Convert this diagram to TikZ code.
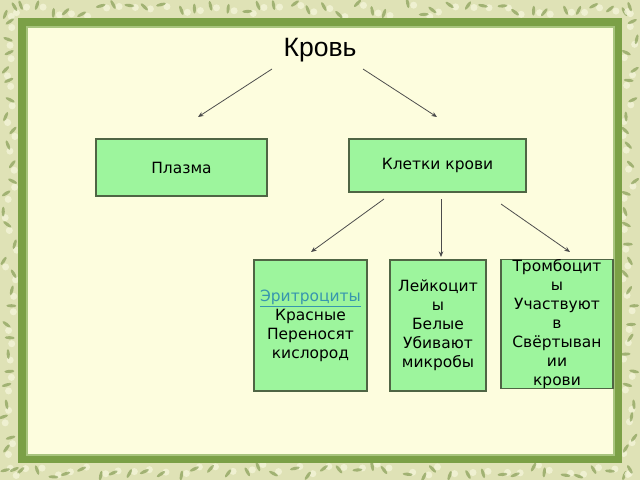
\documentclass[tikz,border=0pt]{standalone}
\usepackage{fontspec}
\setmainfont{DejaVu Sans}
\newfontfamily\titlefont{Liberation Sans}
\usetikzlibrary{arrows.meta}

\definecolor{paper}{HTML}{DFE2B6}
\definecolor{leaf}{HTML}{6F8B3C}
\definecolor{blossom}{HTML}{F3F4D8}
\definecolor{frame}{HTML}{7BA046}
\definecolor{bevel}{HTML}{A8C47E}
\definecolor{cream}{HTML}{FDFDDE}
\definecolor{cellfill}{HTML}{9DF59D}
\definecolor{celldraw}{HTML}{4F6544}
\definecolor{linkc}{HTML}{3796AE}

\tikzset{
  cell/.style={rectangle,draw=celldraw,fill=cellfill,line width=0.6pt,
    inner sep=0pt,align=center,font=\fontsize{8.8}{10.8}\selectfont},
  link/.style={-{Stealth[length=3.2pt,width=2.6pt]},draw=black!70,line width=0.45pt},
  leafy/.style={fill=leaf,opacity=0.55},
  petal/.style={fill=blossom,opacity=0.8}
}

\begin{document}
\begin{tikzpicture}[x=0.02cm,y=-0.02cm]

        % Background with leaves, and frame
        \fill[paper] (0,0) rectangle (640,480);
        \useasboundingbox (0,0) rectangle (640,480);
        \pgfmathsetseed{11}
        \foreach \k in {0,...,39} {
            \pgfmathsetmacro{\xa}{\k*16+8*rnd}
            \pgfmathsetmacro{\ya}{3+12*rnd}
            \pgfmathsetmacro{\yb}{466+12*rnd}
            \pgfmathsetmacro{\ra}{360*rnd}
            \pgfmathsetmacro{\rb}{360*rnd}
            \fill[petal] (\xa+6,\ya+2) circle (3.5);
            \fill[leafy,rotate around={\ra:(\xa,\ya)}] (\xa,\ya) ellipse (5 and 1.6);
            \fill[petal] (\xa+5,\yb-2) circle (3.5);
            \fill[leafy,rotate around={\rb:(\xa,\yb)}] (\xa,\yb) ellipse (5 and 1.6);
        }
        \foreach \k in {0,...,29} {
            \pgfmathsetmacro{\ya}{\k*16+8*rnd}
            \pgfmathsetmacro{\xa}{3+12*rnd}
            \pgfmathsetmacro{\xb}{625+12*rnd}
            \pgfmathsetmacro{\ra}{360*rnd}
            \pgfmathsetmacro{\rb}{360*rnd}
            \fill[petal] (\xa+2,\ya+6) circle (3.5);
            \fill[leafy,rotate around={\ra:(\xa,\ya)}] (\xa,\ya) ellipse (5 and 1.6);
            \fill[petal] (\xb-2,\ya+5) circle (3.5);
            \fill[leafy,rotate around={\rb:(\xb,\ya)}] (\xb,\ya) ellipse (5 and 1.6);
        }
        \fill[frame] (18,18) rectangle (622,463);
        \fill[cream] (27,27) rectangle (614,455);
        \draw[bevel,line width=0.6pt] (27,27) rectangle (614,455);

        % Title
        \node[font=\titlefont\fontsize{15.1}{18}\selectfont,anchor=base] (blood) at (320,56) {Кровь};

        % Boxes
        \node[cell,minimum width=3.42cm,minimum height=1.14cm] (plasma) at (181.5,167.5) {Плазма};
        \node[cell,minimum width=3.54cm,minimum height=1.06cm] (cells) at (437.5,165.5) {Клетки крови};
        \node[cell,minimum width=2.26cm,minimum height=2.62cm] (erythro) at (310.5,325.5)
            {\textcolor{linkc}{\underline{Эритроциты}}\\Красные\\Переносят\\кислород};
        \node[cell,minimum width=1.92cm,minimum height=2.62cm] (leuko) at (438,325.5)
            {Лейкоцит\\ы\\Белые\\Убивают\\микробы};
        \node[cell,minimum width=2.24cm,minimum height=2.56cm] (thrombo) at (557,324)
            {Тромбоцит\\ы\\Участвуют\\в\\Свёртыван\\ии\\крови};

        % Arrow ends
        \coordinate (b1) at (272,69);
        \coordinate (p1) at (198,117);
        \coordinate (b2) at (363,69);
        \coordinate (c1) at (437,117);
        \coordinate (c2) at (384,199);
        \coordinate (e1) at (311,252);
        \coordinate (c3) at (441,199);
        \coordinate (l1) at (441,257);
        \coordinate (c4) at (501,204);
        \coordinate (t1) at (570,252);

        % Arrows
        \draw[link] (b1) -- (p1);
        \draw[link] (b2) -- (c1);
        \draw[link] (c2) -- (e1);
        \draw[link] (c3) -- (l1);
        \draw[link] (c4) -- (t1);
\end{tikzpicture}
\end{document}
